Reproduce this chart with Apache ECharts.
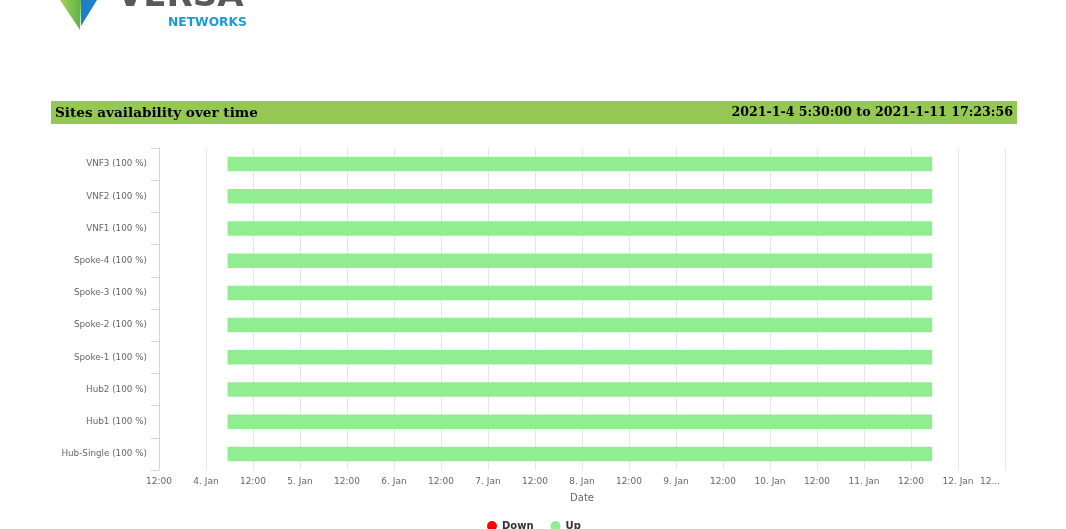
<!DOCTYPE html>
<html>
<head>
<meta charset="utf-8">
<script src="https://cdn.jsdelivr.net/npm/echarts@6/dist/echarts.min.js"></script>
<style>
html,body{margin:0;padding:0;background:#fff;}
#chart{width:1066px;height:529px;}
</style>
</head>
<body>
<div id="chart"></div>
<script>
// ---- data ----
const siteNames = ['Hub-Single', 'Hub1', 'Hub2', 'Spoke-1', 'Spoke-2', 'Spoke-3', 'Spoke-4', 'VNF1', 'VNF2', 'VNF3'];
const availability = [100, 100, 100, 100, 100, 100, 100, 100, 100, 100];
const upStarts = ['2021-01-04T05:30:00Z','2021-01-04T05:30:00Z','2021-01-04T05:30:00Z','2021-01-04T05:30:00Z','2021-01-04T05:30:00Z','2021-01-04T05:30:00Z','2021-01-04T05:30:00Z','2021-01-04T05:30:00Z','2021-01-04T05:30:00Z','2021-01-04T05:30:00Z'];
const upEnds = ['2021-01-11T17:23:56Z','2021-01-11T17:23:56Z','2021-01-11T17:23:56Z','2021-01-11T17:23:56Z','2021-01-11T17:23:56Z','2021-01-11T17:23:56Z','2021-01-11T17:23:56Z','2021-01-11T17:23:56Z','2021-01-11T17:23:56Z','2021-01-11T17:23:56Z'];
const downPeriods = []; // no down time
const axisMin = '2021-01-03T12:00:00Z';
const axisMax = '2021-01-12T12:00:00Z';
const headerTitle = 'Sites availability over time';
const headerRange = '2021-1-4 5:30:00 to 2021-1-11 17:23:56';
const seriesNames = ['Down', 'Up'];

// ---- build ----
const categories = siteNames.map((n, i) => n + ' (' + availability[i] + ' %)');
const upData = siteNames.map((n, i) => [i, Date.parse(upStarts[i]), Date.parse(upEnds[i])]);
const minT = Date.parse(axisMin), maxT = Date.parse(axisMax);
const HALF_DAY = 12 * 3600 * 1000;

function renderBar(params, api) {
  const y = api.value(0);
  const p0 = api.coord([api.value(1), y]);
  const p1 = api.coord([api.value(2), y]);
  const h = api.size([0, 1])[1] * 0.45;
  return {
    type: 'rect',
    shape: { x: p0[0], y: p0[1] - h / 2, width: p1[0] - p0[0], height: h },
    style: { fill: api.visual('color') }
  };
}

const font = 'DejaVu Sans';
const chart = echarts.init(document.getElementById('chart'), null, { renderer: 'canvas' });
chart.setOption({
  animation: false,
  textStyle: { fontFamily: font },
  grid: { left: 159, right: 61, top: 148, bottom: 59, containLabel: false },
  legend: {
    data: seriesNames,
    left: 482, top: 516,
    icon: 'circle', itemWidth: 10, itemHeight: 10, itemGap: 17,
    textStyle: { fontFamily: font, fontSize: 10, fontWeight: 'bold', color: '#333' }
  },
  xAxis: {
    type: 'value', min: minT, max: maxT, interval: HALF_DAY,
    name: 'Date', nameLocation: 'middle', nameGap: 23,
    nameTextStyle: { fontFamily: font, fontSize: 10, color: '#666' },
    axisLine: { show: false }, axisTick: { show: false },
    splitLine: { show: true, lineStyle: { color: '#e6e6e6', width: 1 } },
    axisLabel: {
      fontFamily: font, fontSize: 9, color: '#666', margin: 7,
      showMinLabel: true, showMaxLabel: true,
      formatter: function (v) {
        const d = new Date(v);
        if (v >= maxT) return '{last|12...}';
        if (d.getUTCHours() === 12) return '12:00';
        return d.getUTCDate() + '. Jan';
      },
      rich: { last: { fontFamily: font, fontSize: 9, color: '#666', padding: [0, 30, 0, 0] } }
    }
  },
  yAxis: {
    type: 'category', data: categories,
    axisLine: { show: true, lineStyle: { color: '#ccd6eb', width: 1 } },
    axisTick: { show: true, length: 8, alignWithLabel: false, lineStyle: { color: '#ccd6eb' } },
    splitLine: { show: false },
    axisLabel: { fontFamily: font, fontSize: 8.8, color: '#666', margin: 12 }
  },
  series: [
    { name: 'Down', type: 'custom', color: '#ff0000', renderItem: renderBar, encode: { x: [1, 2], y: 0 }, data: downPeriods },
    { name: 'Up', type: 'custom', color: '#90ee90', renderItem: renderBar, encode: { x: [1, 2], y: 0 }, data: upData }
  ],
  graphic: [
    { type: 'polygon', shape: { points: [[60, 0], [81, 0], [80, 30]] },
      style: { fill: new echarts.graphic.LinearGradient(0, 0, 1, 0, [{ offset: 0, color: '#a6d15a' }, { offset: 1, color: '#5bb549' }]) } },
    { type: 'polygon', shape: { points: [[81, 0], [97, 0], [81, 26]] }, style: { fill: '#1f7fc8' } },
    { type: 'text', x: 117, y: 14, style: { text: 'VERSA', fontFamily: font, fontSize: 34, fontWeight: 'bold', fill: '#58595b', textVerticalAlign: 'bottom' } },
    { type: 'text', x: 168, y: 29, style: { text: 'NETWORKS', fontFamily: font, fontSize: 12.3, fontWeight: 'bold', fill: '#1b9ad6', textVerticalAlign: 'bottom' } },
    { type: 'rect', shape: { x: 51, y: 101, width: 966, height: 23 }, style: { fill: '#94c852' } },
    { type: 'text', x: 55, y: 113, style: { text: headerTitle, fontFamily: 'DejaVu Serif', fontSize: 13.6, fontWeight: 'bold', fill: '#000', textVerticalAlign: 'middle', textAlign: 'left' } },
    { type: 'text', x: 1013, y: 113, style: { text: headerRange, fontFamily: 'DejaVu Serif', fontSize: 12.6, fontWeight: 'bold', fill: '#000', textVerticalAlign: 'middle', textAlign: 'right' } }
  ]
});
</script>
</body>
</html>
